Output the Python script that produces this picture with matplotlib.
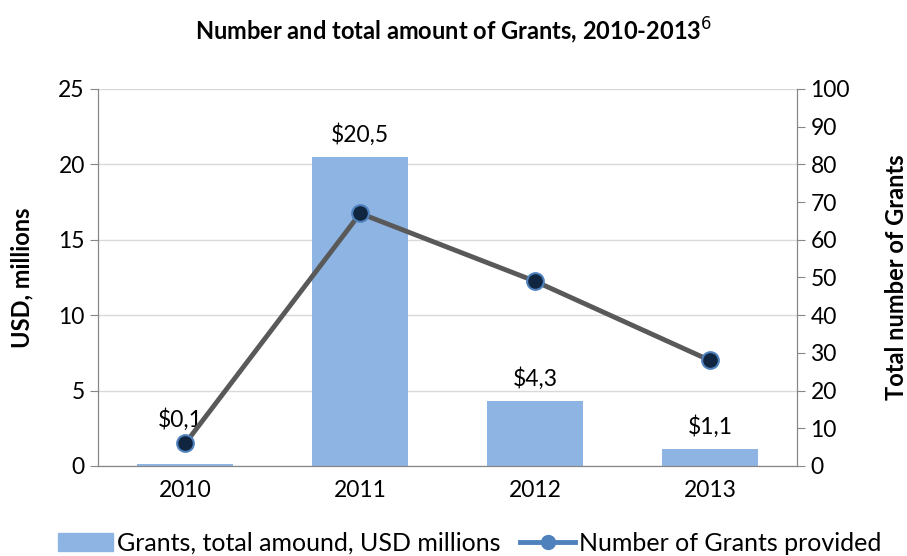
import matplotlib
matplotlib.use("Agg")
import matplotlib.pyplot as plt
from matplotlib.lines import Line2D
from matplotlib.patches import Patch

plt.rcParams['font.family'] = ['Lato', 'DejaVu Sans']

years = ["2010", "2011", "2012", "2013"]
amount = [0.1, 20.5, 4.3, 1.1]
amount_labels = ["$0,1", "$20,5", "$4,3", "$1,1"]
count = [6, 67, 49, 28]

fig = plt.figure(figsize=(9.07, 5.56), dpi=100)
ax = fig.add_axes([0.108, 0.162, 0.771, 0.678])
x = list(range(len(years)))

ax.bar(x, amount, width=0.55, color="#8eb4e3", zorder=2)
offsets = [24, 8, 8, 8]
for xi, v, lab, off in zip(x, amount, amount_labels, offsets):
    ax.annotate(lab, (xi, v), xytext=(-4 if off > 10 else 0, off), textcoords="offset points",
                ha="center", va="bottom", fontsize=16.5)

ax.set_xlim(-0.5, 3.5)
ax.set_ylim(0, 25)
ax.set_yticks(range(0, 26, 5))
ax.set_xticks(x)
ax.set_xticklabels(years)
ax.yaxis.grid(True, color="#d9d9d9", lw=1)
ax.set_axisbelow(True)
ax.spines["top"].set_visible(False)
for s in ["left", "bottom", "right"]:
    ax.spines[s].set_color("#868686")
ax.tick_params(axis="both", labelsize=16.5, color="#868686", length=6)
ax.tick_params(axis="x", length=0, pad=10)
ax.set_ylabel("USD, millions", fontsize=17, fontweight="bold")
ax.yaxis.set_label_coords(-0.092, 0.5)

ax2 = ax.twinx()
ax2.plot(x, count, color="#595959", lw=3.5, marker="o", markersize=12,
         markerfacecolor="#10253f", markeredgecolor="#4f81bd", markeredgewidth=1.5, zorder=3)
ax2.set_ylim(0, 100)
ax2.set_yticks(range(0, 101, 10))
ax2.spines["top"].set_visible(False)
for s in ["left", "bottom", "right"]:
    ax2.spines[s].set_color("#868686")
ax2.tick_params(axis="y", labelsize=16.5, color="#868686", length=6)
ax2.set_ylabel("Total number of Grants", fontsize=17, fontweight="bold", rotation=90)
ax2.yaxis.set_label_coords(1.125, 0.5)

fig.text(0.5, 0.945, "Number and total amount of Grants, 2010-2013$^{6}$",
         ha="center", va="center", fontsize=17, fontweight="bold")

handles = [Patch(color="#8eb4e3", label="Grants, total amound, USD millions"),
           Line2D([0], [0], color="#4f81bd", lw=3.5, marker="o", markersize=10,
                  markerfacecolor="#4f81bd", label="Number of Grants provided")]
fig.legend(handles=handles, loc="lower center", bbox_to_anchor=(0.518, -0.038), ncol=2,
           frameon=False, fontsize=18, handlelength=2.2, handletextpad=0.15, columnspacing=0.8)

fig.savefig("out.png", dpi=100)
